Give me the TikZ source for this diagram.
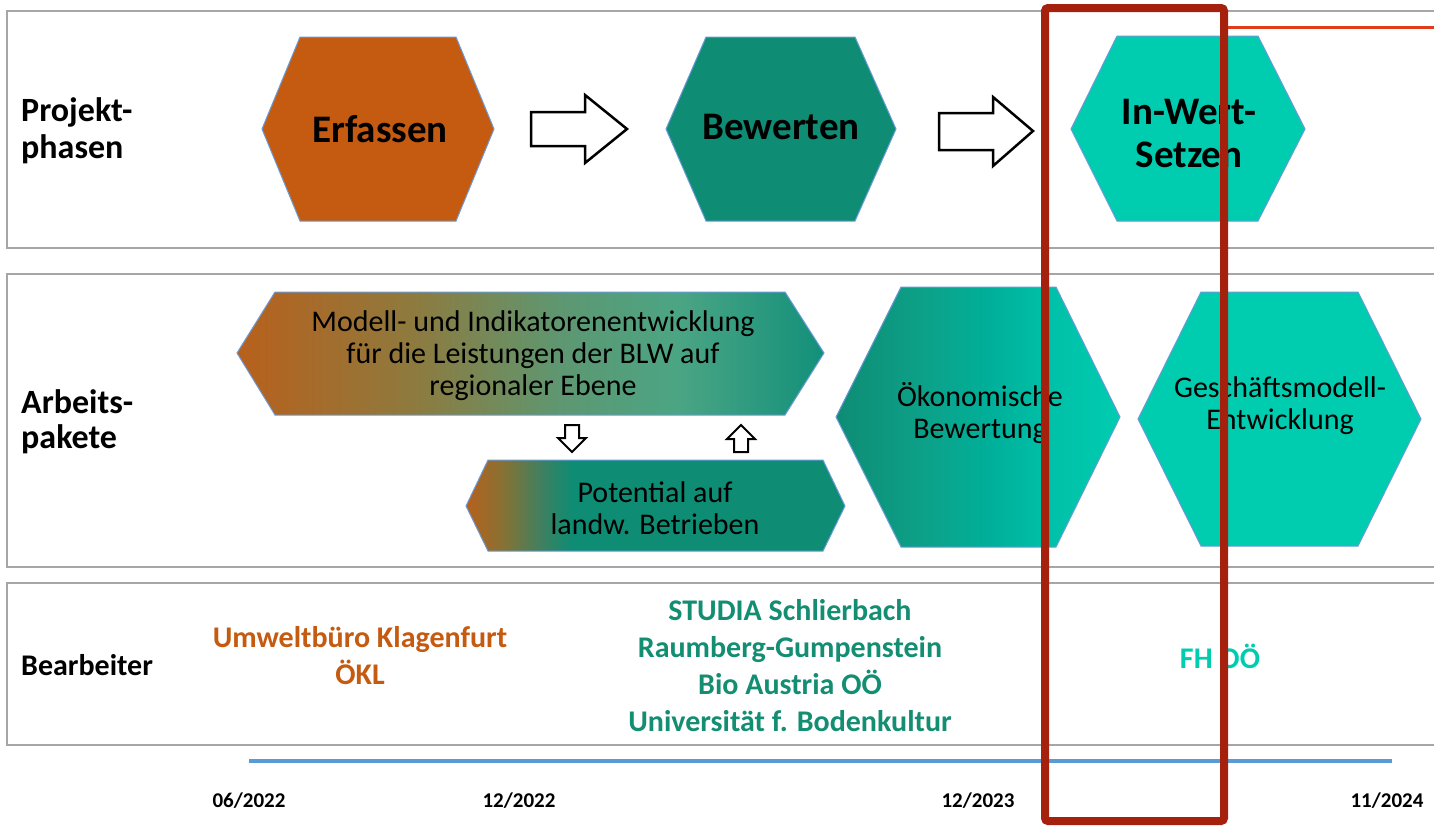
\documentclass[tikz,border=0pt]{standalone}
\usepackage{fontspec}
\setmainfont{Carlito}
\definecolor{orng}{HTML}{C55A11}
\definecolor{teal1}{HTML}{0E8C74}
\definecolor{turq}{HTML}{00CCB0}
\definecolor{hexblue}{HTML}{6A9BD8}
\definecolor{panelgray}{HTML}{A6A6A6}
\definecolor{redbox}{HTML}{A5200D}
\definecolor{redline}{HTML}{E03C1B}
\definecolor{tline}{HTML}{5B9BD5}
\definecolor{wgreen}{HTML}{138E72}
\definecolor{mA}{HTML}{B8601C}
\definecolor{mB}{HTML}{8E7A3E}
\definecolor{mC}{HTML}{5E9771}
\definecolor{mD}{HTML}{4BA584}
\definecolor{mE}{HTML}{12907A}
\definecolor{pB}{HTML}{857235}
\definecolor{pC}{HTML}{3E8060}
\definecolor{oB}{HTML}{0DA088}
\definecolor{oC}{HTML}{00B09A}
\definecolor{oD}{HTML}{00C0A8}
\pgfdeclarehorizontalshading{modsh}{100bp}{color(0bp)=(mA); color(25bp)=(mA); color(40bp)=(mB); color(52.5bp)=(mC); color(62.5bp)=(mD); color(75bp)=(mE); color(100bp)=(mE)}
\pgfdeclarehorizontalshading{potsh}{100bp}{color(0bp)=(mA); color(25bp)=(mA); color(30bp)=(pB); color(35bp)=(pC); color(39bp)=(teal1); color(100bp)=(teal1)}
\pgfdeclarehorizontalshading{oksh}{100bp}{color(0bp)=(teal1); color(25bp)=(teal1); color(40bp)=(oB); color(52.5bp)=(oC); color(62.5bp)=(oD); color(75bp)=(turq); color(100bp)=(turq)}
\tikzset{
  panel/.style={draw=panelgray, line width=2},
  hexb/.style={draw=hexblue, line width=1},
  phase/.style={font=\fontsize{39}{43}\selectfont\bfseries, align=center, inner sep=0},
  wp/.style={font=\fontsize{30}{32}\selectfont, align=center, inner sep=0},
  lbl/.style={font=\fontsize{30}{36}\selectfont\bfseries, align=left, anchor=west, inner sep=0},
  biglbl/.style={font=\fontsize{34}{37}\selectfont\bfseries, align=left, anchor=west, inner sep=0},
  who/.style={font=\fontsize{30}{37}\selectfont\bfseries, align=center, inner sep=0},
  datelbl/.style={font=\fontsize{21}{24}\selectfont\bfseries, inner sep=0},
  blockarrow/.style={draw=black, line width=2.5, fill=white, line join=miter},
  smallarrow/.style={draw=black, line width=2, fill=white, line join=miter}
}
\begin{document}
\begin{tikzpicture}[x=1pt,y=-1pt]
\useasboundingbox (0,0) rectangle (1434,825);
\fill[white] (0,0) rectangle (1434,825);
% panels
\draw[panel] (7,11) rectangle (1446,248);
\draw[panel] (7,274) rectangle (1446,567);
\draw[panel] (7,583) rectangle (1446,745);
% row labels
\node[biglbl] (lp) at (21,131) {Projekt-\\phasen};
\node[biglbl, font=\fontsize{34}{35}\selectfont\bfseries] (la) at (21,422) {Arbeits-\\pakete};
\node[lbl] (lb) at (21,665) {Bearbeiter};
% phase hexagons
\filldraw[hexb, fill=orng] (262,129) -- (300,37) -- (456,37) -- (494,129) -- (456,221) -- (300,221) -- cycle;
\filldraw[hexb, fill=teal1] (666,129) -- (706,37) -- (855,37) -- (896,129) -- (855,221) -- (706,221) -- cycle;
\filldraw[hexb, fill=turq] (1071,129) -- (1117,36) -- (1258,36) -- (1305,129) -- (1258,221) -- (1117,221) -- cycle;
\node[phase] (erf) at (380,129) {Erfassen};
\node[phase] (bew) at (781,127) {Bewerten};
\node[phase] (inw) at (1189,133) {In-Wert-\\Setzen};
% block arrows
\draw[blockarrow] (531,112) -- (585,112) -- (585,95) -- (627,129) -- (585,163) -- (585,146) -- (531,146) -- cycle;
\draw[blockarrow] (939,113) -- (993,113) -- (993,97) -- (1033,131) -- (993,166) -- (993,150) -- (939,150) -- cycle;
% work packages
\shade[shading=modsh] (237,353) -- (275,292) -- (785,292) -- (824,353) -- (785,415) -- (275,415) -- cycle;
\draw[hexb] (237,353) -- (275,292) -- (785,292) -- (824,353) -- (785,415) -- (275,415) -- cycle;
\node[wp] (mod) at (533,356) {Modell- und Indikatorenentwicklung\\für die Leistungen der BLW auf\\regionaler Ebene};
\shade[shading=potsh] (466,506) -- (488,460) -- (823,460) -- (845,506) -- (823,551) -- (488,551) -- cycle;
\draw[hexb] (466,506) -- (488,460) -- (823,460) -- (845,506) -- (823,551) -- (488,551) -- cycle;
\node[wp] (pot) at (655,508) {Potential auf\\landw. Betrieben};
\shade[shading=oksh] (836,417) -- (901,287) -- (1056,287) -- (1120,417) -- (1056,547) -- (901,547) -- cycle;
\draw[hexb] (836,417) -- (901,287) -- (1056,287) -- (1120,417) -- (1056,547) -- (901,547) -- cycle;
\node[wp] (oek) at (980,413) {Ökonomische\\Bewertung};
\filldraw[hexb, fill=turq] (1138,419) -- (1201,292) -- (1358,292) -- (1421,419) -- (1358,546) -- (1201,546) -- cycle;
\node[wp] (ges) at (1280,406) {Geschäftsmodell-\\Entwicklung};
% small arrows
\draw[smallarrow] (565,425) -- (579,425) -- (579,438) -- (586,438) -- (572,452) -- (558,438) -- (565,438) -- cycle;
\draw[smallarrow] (734,452) -- (748,452) -- (748,439) -- (755,439) -- (741,425) -- (727,439) -- (734,439) -- cycle;
% Bearbeiter
\node[who, text=orng] (ukl) at (360,656) {Umweltbüro Klagenfurt\\ÖKL};
\node[who, text=wgreen] (stu) at (790,666) {STUDIA Schlierbach\\Raumberg-Gumpenstein\\Bio Austria OÖ\\Universität f. Bodenkultur};
\node[who, text=turq] (fh) at (1220,656) {FH OÖ};
% timeline
\coordinate (t0) at (249,761);
\coordinate (t1) at (1392,761);
\draw[tline, line width=4] (t0) -- (t1);
\node[datelbl] (d1) at (249,801) {06/2022};
\node[datelbl] (d2) at (519,801) {12/2022};
\node[datelbl] (d3) at (978,801) {12/2023};
\node[datelbl] (d4) at (1387,801) {11/2024};
% red highlight
\draw[redbox, line width=8, rounded corners=3] (1045,8) rectangle (1224,821);
\coordinate (r0) at (1228,27.5);
\coordinate (r1) at (1440,27.5);
\draw[redline, line width=3] (r0) -- (r1);
\end{tikzpicture}
\end{document}
